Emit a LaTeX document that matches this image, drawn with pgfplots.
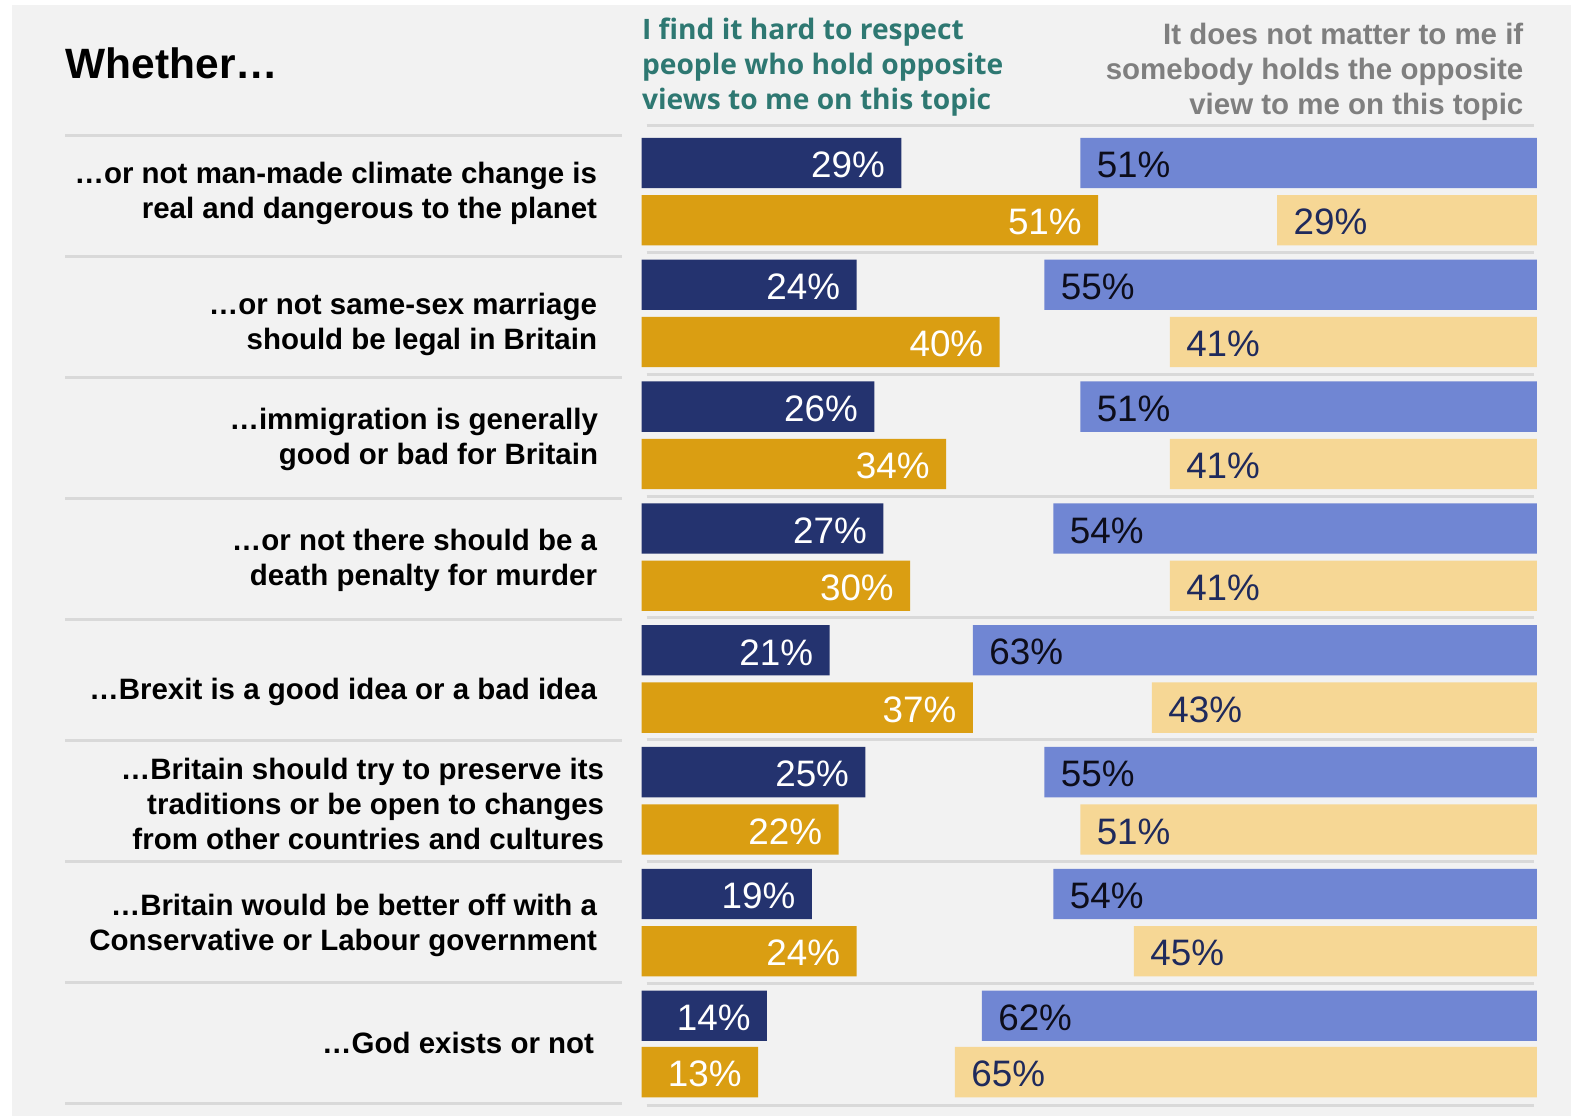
\documentclass[border=0pt]{standalone}
\usepackage{pgfplots}
\pgfplotsset{compat=1.18}
\usepackage{fontspec}
\setmainfont{Liberation Sans}
\newfontfamily\headfont{Open Sans}
\definecolor{bg}{HTML}{F2F2F2}
\definecolor{sep}{HTML}{D9D9D9}
\definecolor{navy}{HTML}{24336F}
\definecolor{peri}{HTML}{7086D3}
\definecolor{gold}{HTML}{DA9E12}
\definecolor{sand}{HTML}{F6D795}
\definecolor{teal}{HTML}{2E7872}
\definecolor{hgray}{HTML}{7F7F7F}
\definecolor{lblnavy}{HTML}{1F2A5C}
\definecolor{lblblack}{HTML}{0D0D1A}
\newcommand{\catfont}{\fontsize{14.65}{17.5}\selectfont\bfseries}
\newcommand{\valfont}{\fontsize{18.3}{21}\selectfont}
\begin{document}
\begin{tikzpicture}
\useasboundingbox (0,0) rectangle (784pt,555pt);
\begin{scope}[x=0.5pt,y=-0.5pt,shift={(0pt,555pt)}]
  \fill[bg] (12,5) rectangle (1562,1110);
  \foreach \k in {0,...,8}{
    \draw[sep, line width=1.5pt] (65,{135+120.25*\k}) -- (618,{135+120.25*\k});
  }
  \draw[sep, line width=1.5pt] (643,125) -- (1525,125);
  \foreach \k in {0,...,7}{
    \draw[sep, line width=1.5pt] (643,{251+121.14*\k}) -- (1525,{251+121.14*\k});
  }
  % title
  \node[anchor=mid west, inner sep=0pt, font=\fontsize{21.1}{25}\selectfont\bfseries] at (65,73) {Whether…};
  % teal header
  \begin{scope}[every node/.style={anchor=mid west, inner sep=0pt, text=teal, font=\headfont\fontsize{14}{17.5}\selectfont\bfseries}]
    \node at (638,34) {I find it hard to respect};
    \node at (638,69) {people who hold opposite};
    \node at (638,104) {views to me on this topic};
  \end{scope}
  % gray header
  \begin{scope}[every node/.style={anchor=mid east, inner sep=0pt, text=hgray, font=\catfont}]
    \node at (1515,39) {It does not matter to me if};
    \node at (1515,74) {somebody holds the opposite};
    \node at (1515,109) {view to me on this topic};
  \end{scope}
  % category labels
  \begin{scope}[every node/.style={anchor=mid east, inner sep=0pt, font=\catfont}]
    \node at (594,177) {…or not man-made climate change is};
    \node at (594,212) {real and dangerous to the planet};
    \node at (594,307) {…or not same-sex marriage};
    \node at (594,342) {should be legal in Britain};
    \node at (595,422) {…immigration is generally};
    \node at (595,457) {good or bad for Britain};
    \node at (594,542) {…or not there should be a};
    \node at (594,577) {death penalty for murder};
    \node at (594,690) {…Brexit is a good idea or a bad idea};
    \node at (601,770) {…Britain should try to preserve its};
    \node at (601,805) {traditions or be open to changes};
    \node at (601,839) {from other countries and cultures};
    \node at (594,905) {…Britain would be better off with a};
    \node at (594,940) {Conservative or Labour government};
    \node at (591,1042) {…God exists or not};
  \end{scope}
\end{scope}

% left bars: "I find it hard to respect..."
\begin{axis}[at={(0pt,0pt)}, anchor=south west, scale only axis,
  width=784pt, height=555pt,
  xmin=-71.685, xmax=104.494, ymin=-1110, ymax=0,
  hide axis, clip=false,
  /pgf/number format/assume math mode=true]
\addplot[xbar, bar width=25pt, bar shift=0pt, fill=navy, draw=none,
  point meta=x,
  nodes near coords={\pgfmathprintnumber{\pgfplotspointmeta}\%},
  nodes near coords style={anchor=east, xshift=-8pt, yshift=-1pt, text=white, font=\valfont, inner sep=0pt}]
coordinates {(29,-162) (24,-283.1) (26,-404.3) (27,-525.4) (21,-646.6) (25,-767.7) (19,-888.8) (14,-1010)};
\addplot[xbar, bar width=25pt, bar shift=0pt, fill=gold, draw=none,
  point meta=x,
  nodes near coords={\pgfmathprintnumber{\pgfplotspointmeta}\%},
  nodes near coords style={anchor=east, xshift=-8pt, yshift=-1pt, text=white, font=\valfont, inner sep=0pt}]
coordinates {(51,-219) (40,-340.1) (34,-461.3) (30,-582.4) (37,-703.6) (22,-824.7) (24,-945.8) (13,-1066)};
\end{axis}

% right bars: "It does not matter to me..."
\begin{axis}[at={(0pt,0pt)}, anchor=south west, scale only axis,
  width=784pt, height=555pt,
  x dir=reverse,
  xmin=-4.494, xmax=171.685, ymin=-1110, ymax=0,
  hide axis, clip=false,
  /pgf/number format/assume math mode=true]
\addplot[xbar, bar width=25pt, bar shift=0pt, fill=peri, draw=none,
  point meta=x,
  nodes near coords={\pgfmathprintnumber{\pgfplotspointmeta}\%},
  nodes near coords style={anchor=west, xshift=8pt, yshift=-1pt, text=lblblack, font=\valfont, inner sep=0pt}]
coordinates {(51,-162) (55,-283.1) (51,-404.3) (54,-525.4) (63,-646.6) (55,-767.7) (54,-888.8) (62,-1010)};
\addplot[xbar, bar width=25pt, bar shift=0pt, fill=sand, draw=none,
  point meta=x,
  nodes near coords={\pgfmathprintnumber{\pgfplotspointmeta}\%},
  nodes near coords style={anchor=west, xshift=8pt, yshift=-1pt, text=lblnavy, font=\valfont, inner sep=0pt}]
coordinates {(29,-219) (41,-340.1) (41,-461.3) (41,-582.4) (43,-703.6) (51,-824.7) (45,-945.8) (65,-1066)};
\end{axis}
\end{tikzpicture}
\end{document}
